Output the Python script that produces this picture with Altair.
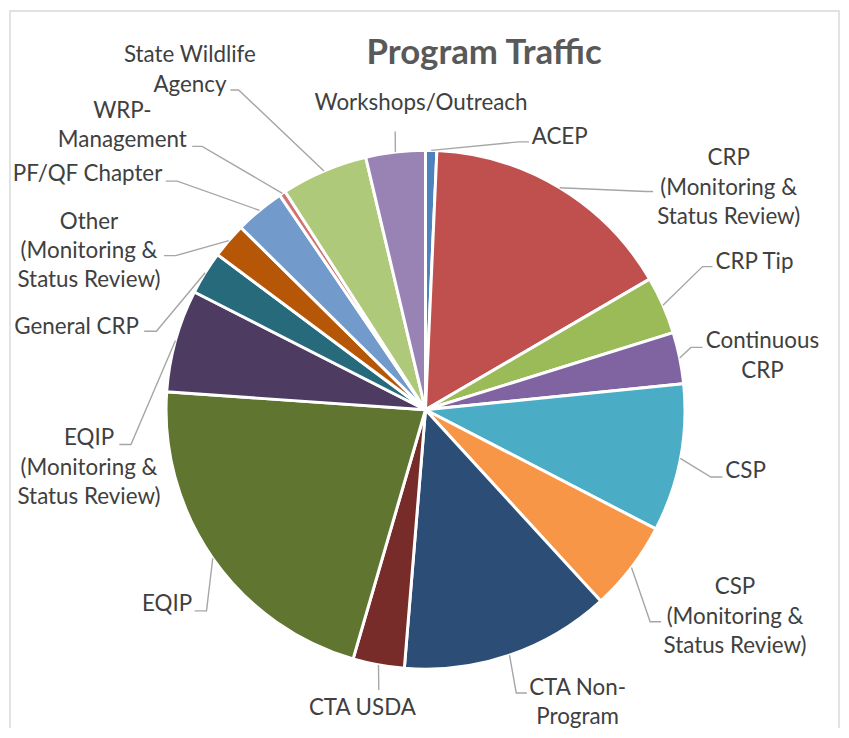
import math
import altair as alt
import pandas as pd

# ---------------- data ----------------
categories = [
    "ACEP", "CRP (Monitoring & Status Review)", "CRP Tip", "Continuous CRP", "CSP",
    "CSP (Monitoring & Status Review)", "CTA Non-Program", "CTA USDA", "EQIP",
    "EQIP (Monitoring & Status Review)", "General CRP", "Other (Monitoring & Status Review)",
    "PF/QF Chapter", "WRP-Management", "State Wildlife Agency", "Workshops/Outreach",
]
values = [0.7, 15.9, 3.6, 3.2, 9.2, 5.6, 13.1, 3.2, 21.6, 6.4, 2.7, 2.2, 3.1, 0.4, 5.4, 3.7]
label_lines = [
    ["ACEP"], ["CRP", "(Monitoring &", "Status Review)"], ["CRP Tip"], ["Continuous", "CRP"],
    ["CSP"], ["CSP", "(Monitoring &", "Status Review)"], ["CTA Non-", "Program"], ["CTA USDA"],
    ["EQIP"], ["EQIP", "(Monitoring &", "Status Review)"], ["General CRP"],
    ["Other", "(Monitoring &", "Status Review)"], ["PF/QF Chapter"], ["WRP-", "Management"],
    ["State Wildlife", "Agency"], ["Workshops/Outreach"],
]
title_text = "Program Traffic"

# ---------------- styles / layout ----------------
colors = ["#4F81BD", "#C0504D", "#9BBB59", "#8064A2", "#4BACC6", "#F79646", "#2C4D75",
          "#772C2A", "#5F7530", "#4D3B62", "#276A7C", "#B65708", "#729ACA", "#CD7371",
          "#AFC97A", "#9983B5"]
R = 261          # pie radius (px)
LH = 29.3        # label line height (px)
TEXT_DY = 1.5    # small vertical nudge for label text
# label placement (px offsets from pie centre, y downward): label block centre, leader elbow, leader end
label_layout = [
    ((135, -276), (94, -269.5), (104, -269.5)),
    ((305, -225), (222, -219.5), (229, -219.5)),
    ((331, -150), (278.7, -144), (288.7, -144)),
    ((339, -55.5), (267, -62.7), (278.7, -62.7)),
    ((322, 60), (287, 67.7), (298.7, 67.7)),
    ((311.4, 206.6), (226, 213.3), (237, 213.3)),
    ((153, 292.8), (91.3, 285), (102, 285)),
    ((-63.5, 298.3), (-47, 282), (-47, 282)),
    ((-260, 194.3), (-220.3, 202.3), (-232.3, 202.3)),
    ((-338.5, 56.7), (-296.3, 35), (-308, 35)),
    ((-351, -85), (-270.7, -79), (-283, -79)),
    ((-338.5, -161.3), (-251.3, -155), (-263, -155)),
    ((-340, -238.3), (-249.7, -230), (-261.3, -230)),
    ((-305, -287.5), (-224.7, -265), (-234.7, -265)),
    ((-237, -343.3), (-188, -321.7), (-196.3, -321.7)),
    ((-4.5, -310), (-30.5, -280), (-30.5, -280)),
]

W, H = 838, 720
xs = alt.Scale(domain=[-420, 418], nice=False, zero=False)
ys = alt.Scale(domain=[-402, 318], reverse=True, nice=False, zero=False)

# ---------------- tables ----------------
pie_df = pd.DataFrame({"cat": categories, "value": values, "idx": list(range(len(values)))})

total = sum(values)
leader_rows, label_rows = [], []
cum = 0.0
for i, (c, v) in enumerate(zip(categories, values)):
    ang = (cum + v / 2) / total * 2 * math.pi
    cum += v
    (lx, ly), (ex, ey), (tx, ty) = label_layout[i]
    sx, sy = R * math.sin(ang), -R * math.cos(ang)
    for k, (px, py) in enumerate([(sx, sy), (ex, ey), (tx, ty)]):
        leader_rows.append({"cat": c, "k": k, "x": px, "y": py})
    n = len(label_lines[i])
    label_rows.append({"cat": c, "x": lx, "y": ly - (n - 1) * LH / 2 + TEXT_DY,
                       "lines": label_lines[i]})
leader_df = pd.DataFrame(leader_rows)
label_df = pd.DataFrame(label_rows)

# ---------------- chart ----------------
frame = alt.Chart(pd.DataFrame({"a": [0]})).mark_rect(
    filled=False, stroke="#D9D9D9", strokeWidth=1.5
).encode(x=alt.value(2), x2=alt.value(836), y=alt.value(0.8), y2=alt.value(900))

pie = alt.Chart(pie_df).mark_arc(outerRadius=R, stroke="white", strokeWidth=3).encode(
    theta=alt.Theta("value:Q", stack=True),
    order=alt.Order("idx:Q", sort="ascending"),
    color=alt.Color("cat:N", scale=alt.Scale(domain=categories, range=colors), legend=None),
    x=alt.XDatum(0, type="quantitative", scale=xs, axis=None),
    y=alt.YDatum(0, type="quantitative", scale=ys, axis=None),
)

leaders = alt.Chart(leader_df).mark_line(color="#A6A6A6", strokeWidth=1.4).encode(
    x=alt.X("x:Q", scale=xs, axis=None),
    y=alt.Y("y:Q", scale=ys, axis=None),
    detail="cat:N",
    order="k:Q",
)

labels = alt.Chart(label_df).mark_text(
    align="center", baseline="middle", font="Lato", fontSize=22.5, lineHeight=LH, color="#404040"
).encode(
    x=alt.X("x:Q", scale=xs, axis=None),
    y=alt.Y("y:Q", scale=ys, axis=None),
    text="lines",
)

title = alt.Chart(pd.DataFrame({"t": [title_text]})).mark_text(
    align="center", baseline="middle", font="Lato", fontSize=35, fontWeight="bold", color="#595959"
).encode(x=alt.value(479), y=alt.value(43), text="t:N")

chart = alt.layer(frame, pie, leaders, labels, title).properties(
    width=W, height=H, padding=0, autosize=alt.AutoSizeParams(type="none"), background="white"
).configure_view(stroke=None)

chart.save("out.html", embed_options={"renderer": "svg", "actions": False})
